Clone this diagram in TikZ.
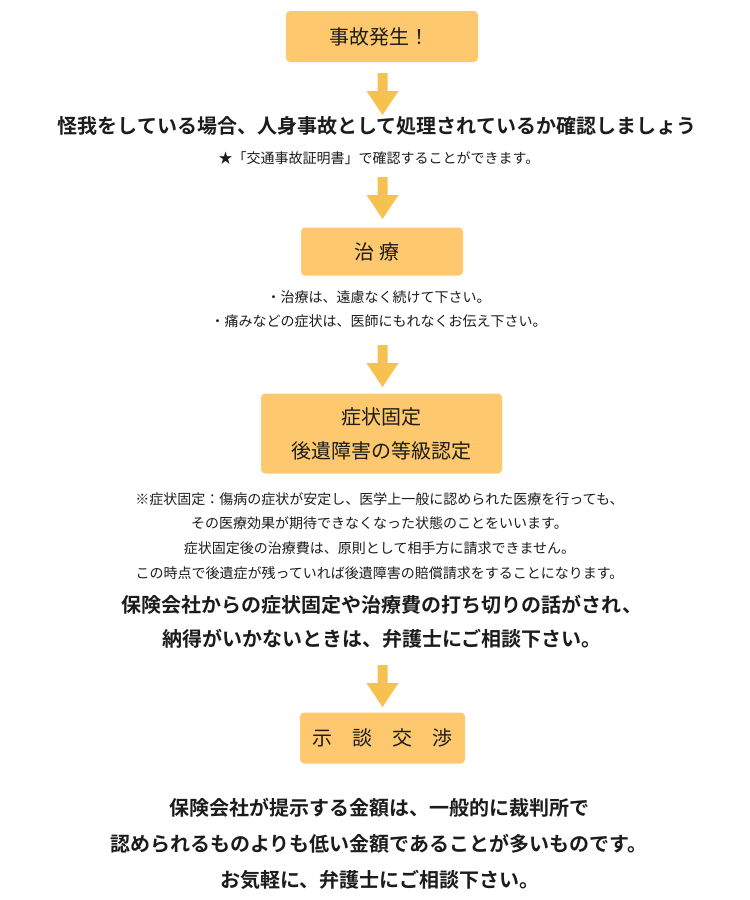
\documentclass[tikz,border=0pt]{standalone}
\usepackage{fontspec}
\setmainfont{Noto Sans CJK JP}[BoldFont={Noto Sans CJK JP Bold}]
\definecolor{boxfill}{RGB}{253,200,110}
\definecolor{arrowfill}{RGB}{245,194,80}
\definecolor{ink}{RGB}{28,28,28}
\begin{document}
\begin{tikzpicture}[x=1pt,y=-1pt,
  stepbox/.style={fill=boxfill, draw=none, rounded corners=4pt, inner sep=0pt,
    font=\fontsize{20}{34}\selectfont, text=ink, align=center},
  smalltext/.style={inner sep=0pt, font=\fontsize{14}{24}\selectfont, text=ink},
  boldtext/.style={inner sep=0pt, font=\fontsize{20}{34}\bfseries\selectfont, text=ink},
  downarrow/.pic={\fill[arrowfill] (-5,0) -- (5,0) -- (5,18) -- (16,18) -- (0,42)
      -- (-16,18) -- (-5,18) -- cycle;}]
\useasboundingbox (0,0) rectangle (750,900);
\fill[white] (0,0) rectangle (750,900);

% step 1
\node[stepbox, minimum width=192pt, minimum height=51pt] (b1) at (382,36.5) {事故発生！\kern6pt};
\coordinate (a1) at (382.5,73);
\pic at (a1) {downarrow};
\node[boldtext] (t1) at (377,126) {怪我をしている場合、人身事故として処理されているか確認しましょう};
\node[smalltext] (t2) at (379,158) {★「交通事故証明書」で確認することができます。};
\coordinate (a2) at (382.5,177);
\pic at (a2) {downarrow};

% step 2
\node[stepbox, minimum width=162pt, minimum height=48pt] (b2) at (382,251.5) {治 療\kern10pt};
\node[smalltext] (t3) at (378.5,297) {・治療は、遠慮なく続けて下さい。};
\node[smalltext] (t4) at (378.5,321) {・痛みなどの症状は、医師にもれなくお伝え下さい。};
\coordinate (a3) at (382.5,345);
\pic at (a3) {downarrow};

% step 3
\node[stepbox, minimum width=241pt, minimum height=80pt] (b3) at (381.5,433.5) {症状固定\\後遺障害の等級認定};
\node[smalltext] (t5) at (379.5,499) {※症状固定：傷病の症状が安定し、医学上一般に認められた医療を行っても、};
\node[smalltext] (t6) at (379.5,523.5) {その医療効果が期待できなくなった状態のことをいいます。};
\node[smalltext] (t7) at (379.5,548.5) {症状固定後の治療費は、原則として相手方に請求できません。};
\node[smalltext] (t8) at (379.5,573) {この時点で後遺症が残っていれば後遺障害の賠償請求をすることになります。};
\node[boldtext] (t9) at (382,605) {保険会社からの症状固定や治療費の打ち切りの話がされ、};
\node[boldtext] (t10) at (382,639) {納得がいかないときは、弁護士にご相談下さい。};
\coordinate (a4) at (382.5,665);
\pic at (a4) {downarrow};

% step 4
\node[stepbox, minimum width=165pt, minimum height=51pt] (b4) at (382.5,738) {示　談　交　渉};
\node[boldtext] (t11) at (379,808) {保険会社が提示する金額は、一般的に裁判所で};
\node[boldtext] (t12) at (379,844) {認められるものよりも低い金額であることが多いものです。};
\node[boldtext] (t13) at (380,880) {お気軽に、弁護士にご相談下さい。};
\end{tikzpicture}
\end{document}
